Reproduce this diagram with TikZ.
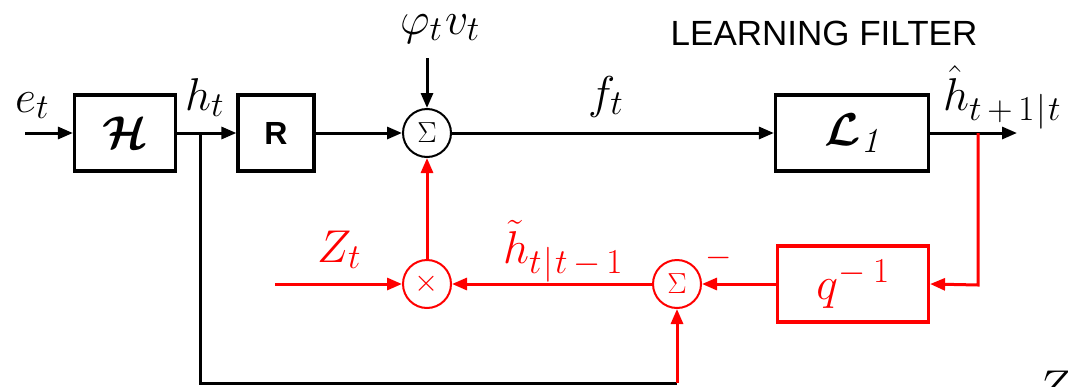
\RequirePackage{fix-cm}
\documentclass[tikz,border=0pt]{standalone}
\usepackage{amsmath,bm}
\usepackage{fontspec}
\setsansfont{Liberation Sans}
\DeclareMathSizes{46}{46}{35}{26}
\usetikzlibrary{arrows.meta}
\definecolor{fred}{RGB}{255,0,0}
\begin{document}
\begin{tikzpicture}[x=1pt,y=-1pt,
  arr/.style={-{Triangle[length=15pt,width=12pt]}},
  ln/.style={line width=3pt},
  blk/.style={draw, line width=3.2pt, minimum height=76pt, inner sep=0pt},
  sumc/.style={draw, circle, line width=2pt, minimum size=48pt, inner sep=0pt, font=\fontsize{29}{31}\selectfont},
  lbl/.style={inner sep=0pt, font=\fontsize{46}{50}\selectfont},
  red/.style={draw=fred, text=fred}
]
\useasboundingbox (0,0) rectangle (1068,386);
% boxes
\node[blk, minimum width=101pt, font=\fontsize{46}{50}\selectfont] (H) at (125,133) {$\bm{\mathcal{H}}$};
\node[blk, minimum width=76pt, font=\fontsize{32}{34}\selectfont\sffamily\bfseries] (R) at (276,133) {R};
\node[blk, minimum width=153pt, font=\fontsize{46}{50}\selectfont] (L) at (852,133) {$\bm{\mathcal{L}}_{\mathit{1}}$};
\node[blk, red, minimum width=151pt, font=\fontsize{46}{50}\selectfont] (Q) at (853,284) {$q^{-\mskip4mu1}$};
% circles
\node[sumc] (S1) at (427,133) {$\Sigma$};
\node[sumc, red] (S2) at (677,284) {$\Sigma$};
\node[sumc, red, font=\fontsize{31}{33}\selectfont] (X) at (427,284) {$\times$};
% coordinates
\coordinate (in0) at (25,133);
\coordinate (br) at (200,133);
\coordinate (out) at (1017,133);
\coordinate (tap) at (978,133);
\coordinate (c1) at (978,285);
\coordinate (zin) at (275,284);
\coordinate (bl) at (200,383);
\coordinate (brr) at (677,383);
\coordinate (phi) at (427,58);
% labels
\node[lbl, anchor=base west] (le) at (15,112) {$e_t$};
\node[lbl, anchor=base west] (lh) at (185,110) {$h_t$};
\node[lbl, anchor=base west] (lphi) at (400,34) {$\varphi_t\mskip1mu v_t$};
\node[lbl, anchor=base west] (lf) at (588,108) {$f_t$};
\node[lbl, anchor=base west] (lhat) at (943,110) {$\hat h_{t\mskip3mu+\mskip3mu1\mskip1mu|\mskip1mu t}$};
\node[lbl, anchor=base west, text=fred] (lz) at (317,262) {$Z_t$};
\node[lbl, anchor=base west, text=fred] (lth) at (503,263) {$\tilde h_{t\mskip1mu|\mskip1mu t\mskip3mu-\mskip3mu1}$};
\node[inner sep=0pt, text=fred, font=\fontsize{34}{36}\selectfont] (lm) at (719,258) {$-$};
\node[inner sep=0pt, anchor=base, font=\fontsize{35}{38}\selectfont\sffamily] (lt) at (824,45) {LEARNING FILTER};
\node[lbl, anchor=north west] (lzz) at (1036,371) {$Z$};
% black connectors
\draw[ln, arr] (in0) -- (H.west);
\draw[ln, arr] (H.east) -- (R.west);
\draw[ln, arr] (R.east) -- (S1.west);
\draw[ln, arr] (phi) -- (S1.north);
\draw[ln, arr] (S1.east) -- (L.west);
\draw[ln, arr] (L.east) -- (out);
\draw[ln] (br) -- (bl) -- (brr);
% red connectors
\draw[ln, fred, arr] (tap) -- (c1) -- (Q.east);
\draw[ln, fred, arr] (Q.west) -- (S2.east);
\draw[ln, fred, arr] (S2.west) -- (X.east);
\draw[ln, fred, arr] (zin) -- (X.west);
\draw[ln, fred, arr] (X.north) -- (S1.south);
\draw[ln, fred, arr] (brr) -- (S2.south);
\end{tikzpicture}
\end{document}
